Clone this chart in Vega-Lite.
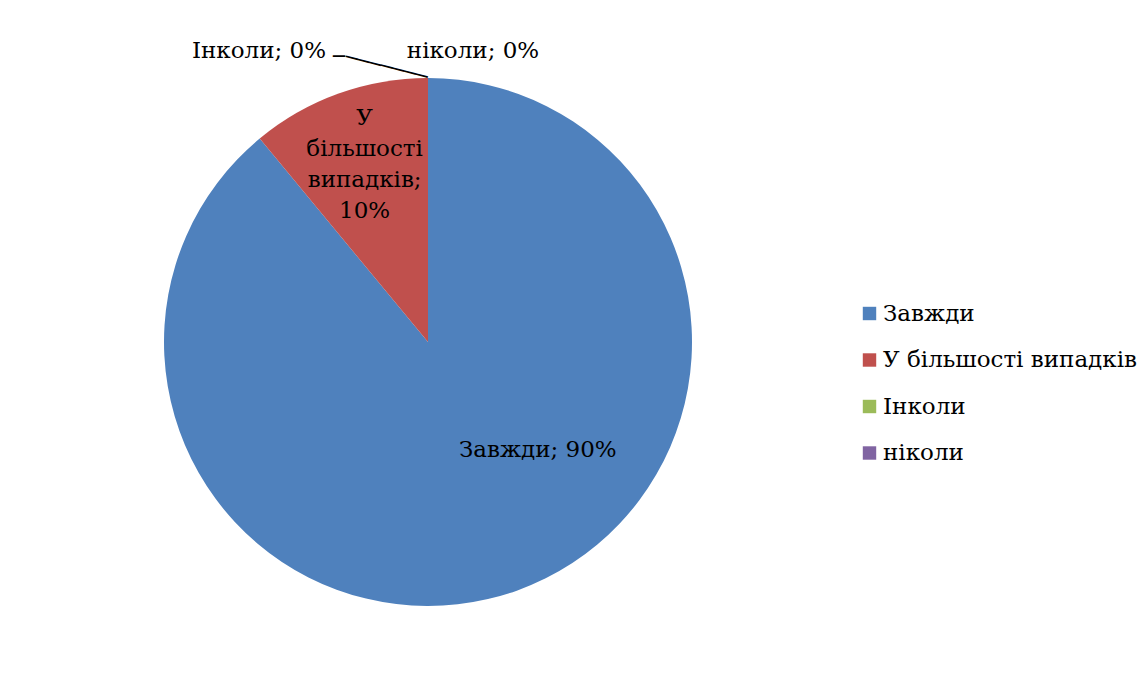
{
  "$schema": "https://vega.github.io/schema/vega-lite/v6.json",
  "width": 846,
  "height": 664,
  "padding": {"left": 5, "top": 10, "right": 0, "bottom": 0},
  "background": "white",
  "config": {"view": {"stroke": null}, "font": "DejaVu Serif"},
  "data": {
    "values": [
      {"cat": "Завжди", "v": 89, "label": "Завжди; 90%"},
      {"cat": "У більшості випадків", "v": 11, "label": "У\nбільшості\nвипадків;\n10%"},
      {"cat": "Інколи", "v": 0, "label": "Інколи; 0%"},
      {"cat": "ніколи", "v": 0, "label": "ніколи; 0%"}
    ]
  },
  "encoding": {
    "theta": {"field": "v", "type": "quantitative", "stack": true},
    "order": {"field": "v", "type": "quantitative", "sort": "descending"}
  },
  "layer": [
    {
      "mark": {"type": "arc", "outerRadius": 264, "stroke": null},
      "encoding": {
        "color": {
          "field": "cat",
          "type": "nominal",
          "sort": ["Завжди", "У більшості випадків", "Інколи", "ніколи"],
          "scale": {
            "domain": ["Завжди", "У більшості випадків", "Інколи", "ніколи"],
            "range": ["#4F81BD", "#C0504D", "#9BBB59", "#8064A2"]
          },
          "legend": {
            "title": null,
            "orient": "none",
            "legendX": 853,
            "legendY": 292,
            "symbolType": "square",
            "symbolSize": 180,
            "symbolStrokeWidth": 0,
            "labelFont": "DejaVu Serif",
            "labelFontSize": 23,
            "labelLimit": 0,
            "labelColor": "#000000",
            "rowPadding": 22.5,
            "labelOffset": 2
          }
        }
      }
    },
    {
      "mark": {"type": "text", "radius": 150, "dx": 59, "dy": -26, "fontSize": 23, "fill": "#000000", "baseline": "alphabetic"},
      "encoding": {
        "text": {"condition": {"test": "datum.cat === 'Завжди'", "field": "label"}, "value": ""}
      }
    },
    {
      "mark": {"type": "text", "radius": 190, "dx": 1, "dy": -38, "fontSize": 23, "lineHeight": 31, "lineBreak": "\n", "fill": "#000000", "baseline": "alphabetic"},
      "encoding": {
        "text": {"condition": {"test": "datum.cat === 'У більшості випадків'", "field": "label"}, "value": ""}
      }
    },
    {
      "mark": {"type": "text", "radius": 284, "dx": -169, "dy": 0, "fontSize": 23, "fill": "#000000", "baseline": "alphabetic"},
      "encoding": {
        "text": {"condition": {"test": "datum.cat === 'Інколи'", "field": "label"}, "value": ""}
      }
    },
    {
      "mark": {"type": "text", "radius": 284, "dx": 45, "dy": 0, "fontSize": 23, "fill": "#000000", "baseline": "alphabetic"},
      "encoding": {
        "text": {"condition": {"test": "datum.cat === 'ніколи'", "field": "label"}, "value": ""}
      }
    },
    {
      "mark": {"type": "text", "radius": 284, "dx": -37.9, "dy": 19.4, "angle": 14.2, "font": "DejaVu Sans Mono", "fontSize": 20, "fill": "#000000", "align": "center", "baseline": "middle"},
      "encoding": {
        "text": {"condition": {"test": "datum.cat === 'Інколи'", "value": "───────"}, "value": ""}
      }
    },
    {
      "mark": {"type": "text", "radius": 284, "dx": -89, "dy": -1, "font": "DejaVu Sans Mono", "fontSize": 20, "fill": "#000000", "align": "center", "baseline": "middle"},
      "encoding": {
        "text": {"condition": {"test": "datum.cat === 'Інколи'", "value": "─"}, "value": ""}
      }
    }
  ]
}
